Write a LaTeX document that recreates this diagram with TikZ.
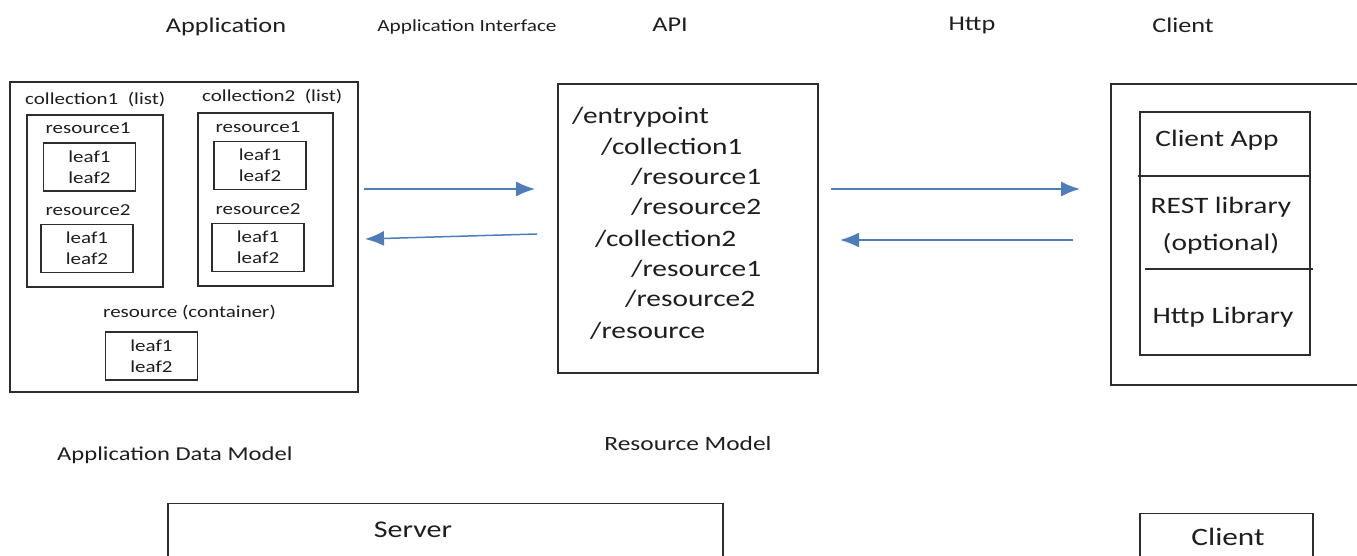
\documentclass[tikz,border=0pt]{standalone}
\usepackage{fontspec}
\setmainfont{Carlito}[FakeStretch=1.25]
\usetikzlibrary{arrows.meta}

\definecolor{linegray}{RGB}{45,45,45}
\definecolor{txtgray}{RGB}{30,30,30}
\definecolor{flowblue}{RGB}{79,125,185}

\tikzset{
  box/.style={draw=linegray, line width=1.2pt, inner sep=0pt, text=txtgray},
  lbl/.style={inner sep=0pt, text=txtgray, font=\fontsize{21}{25}\selectfont},
  sml/.style={inner sep=0pt, text=txtgray, font=\fontsize{16.8}{21}\selectfont},
  big/.style={inner sep=0pt, text=txtgray, font=\fontsize{23.5}{37}\selectfont},
  leaf/.style={box, sml, align=center, minimum width=92pt, minimum height=48pt},
  flow/.style={draw=flowblue, line width=1.5pt, -{Latex[length=19pt,width=15pt]}}
}

\begin{document}
\begin{tikzpicture}[x=1pt, y=-1pt]
  \clip (0,0) rectangle (1357,556);
  % headings
  \node[lbl] (appname) at (226,27) {Application};
  \node[lbl, font=\fontsize{17}{20}\selectfont] (ifname) at (467,27) {Application Interface};
  \node[lbl] (apiname) at (670,25) {API};
  \node[lbl] (httpname) at (972,25) {Http};
  \node[lbl] (clientname) at (1183,25) {Client};

  % application data model
  \node[box, minimum width=348pt, minimum height=310pt] (app) at (184,237) {};
  \node[sml, anchor=west] (col1) at (25,100) {collection1\ \ (list)};
  \node[box, minimum width=136pt, minimum height=172pt] (col1box) at (95,201) {};
  \node[sml] (c1res1) at (88,128) {resource1};
  \node[leaf] (c1leaf1) at (89.5,167) {leaf1\\leaf2};
  \node[sml] (c1res2) at (88,210) {resource2};
  \node[leaf] (c1leaf2) at (87,248.5) {leaf1\\leaf2};
  \node[sml, anchor=west] (col2) at (202,97) {collection2\ \ (list)};
  \node[box, minimum width=135pt, minimum height=173pt] (col2box) at (265.5,199.5) {};
  \node[sml] (c2res1) at (258,127) {resource1};
  \node[leaf] (c2leaf1) at (260,165.5) {leaf1\\leaf2};
  \node[sml] (c2res2) at (258,209) {resource2};
  \node[leaf] (c2leaf2) at (258,247.5) {leaf1\\leaf2};
  \node[sml, anchor=west] (cont) at (103,313) {resource (container)};
  \node[leaf] (contleaf) at (151.5,356) {leaf1\\leaf2};
  \node[lbl, font=\fontsize{19.7}{24}\selectfont, anchor=west] (admname) at (57,455) {Application Data Model};

  % resource model
  \node[box, minimum width=260pt, minimum height=289pt] (api) at (688,228.5) {};
  \foreach \x/\y/\t in {572/117/entrypoint, 601/147/collection1, 631/177/resource1,
      631/207/resource2, 595/239/collection2, 631/269/resource1, 625/299/resource2, 590/331/resource}
    \node[big, anchor=west] (api-\y) at (\x,\y) {/\t};
  \node[lbl, font=\fontsize{20.3}{24}\selectfont] (rmname) at (688,444) {Resource Model};

  % client
  \node[box, minimum width=260pt, minimum height=301pt] (client) at (1241,234.5) {};
  \node[box, minimum width=170pt, minimum height=243pt] (stack) at (1225,233.5) {};
  \draw[box] (1138,176) -- (1311,176);
  \draw[box] (1145,269) -- (1313,269);
  \node[big] (capp) at (1217,140) {Client App};
  \node[big, align=center] (rest) at (1221,226) {REST library\\(optional)};
  \node[big] (httplib) at (1223,317) {Http Library};

  % server / client
  \node[box, minimum width=555pt, minimum height=80pt, anchor=north] (server) at (445.5,503) {};
  \node[big, font=\fontsize{24}{28}\selectfont] (servername) at (413,530) {Server};
  \node[box, minimum width=173pt, minimum height=80pt, anchor=north] (clientbox) at (1226.5,513) {};
  \node[big, font=\fontsize{25}{29}\selectfont] (clientbot) at (1228,537) {Client};

  \coordinate (l1) at (364,189); \coordinate (r1) at (535,189);
  \coordinate (r2) at (537,234); \coordinate (l2) at (365,239);
  \coordinate (l3) at (831,189); \coordinate (r3) at (1080,189);
  \coordinate (r4) at (1073,240); \coordinate (l4) at (840,240);
  \path
  (l1) edge[flow] (r1)
  (r2) edge[flow] (l2)
  (l3) edge[flow] (r3)
  (r4) edge[flow] (l4);
\end{tikzpicture}
\end{document}
